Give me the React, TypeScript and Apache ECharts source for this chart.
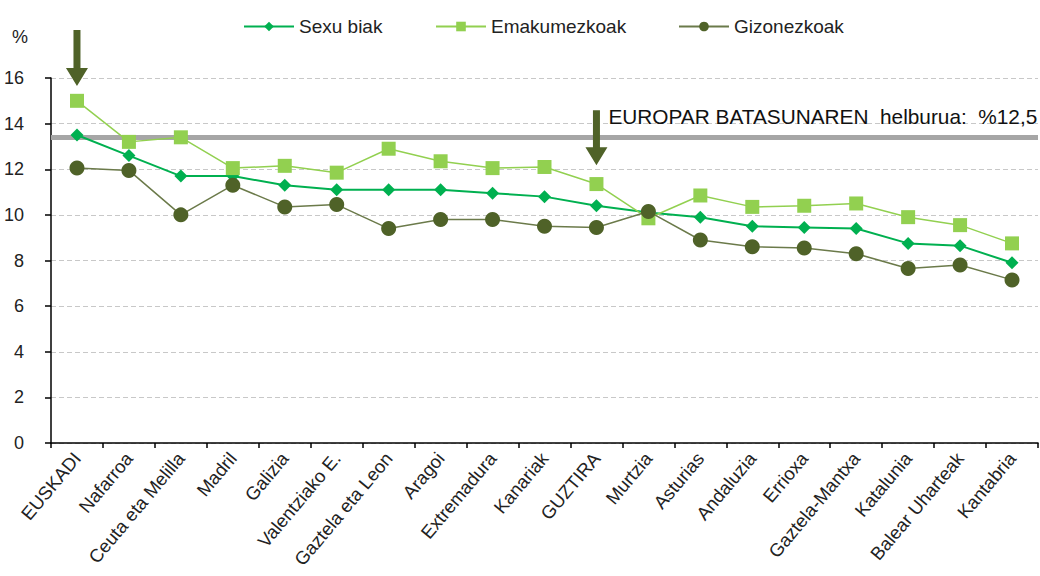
import React, { useEffect, useRef } from "react";
import * as echarts from "echarts";

const categories = [
  "EUSKADI", "Nafarroa", "Ceuta eta Melilla", "Madril", "Galizia", "Valentziako E.",
  "Gaztela eta Leon", "Aragoi", "Extremadura", "Kanariak", "GUZTIRA", "Murtzia",
  "Asturias", "Andaluzia", "Errioxa", "Gaztela-Mantxa", "Katalunia", "Balear Uharteak", "Kantabria",
];
const sexuBiak = [13.5, 12.6, 11.7, 11.7, 11.3, 11.1, 11.1, 11.1, 10.95, 10.8, 10.4, 10.1, 9.9, 9.5, 9.45, 9.4, 8.75, 8.65, 7.9];
const emakumezkoak = [15.0, 13.2, 13.4, 12.05, 12.15, 11.85, 12.9, 12.35, 12.05, 12.1, 11.35, 9.85, 10.85, 10.35, 10.4, 10.5, 9.9, 9.55, 8.75];
const gizonezkoak = [12.05, 11.95, 10.0, 11.3, 10.35, 10.45, 9.4, 9.8, 9.8, 9.5, 9.45, 10.15, 8.9, 8.6, 8.55, 8.3, 7.65, 7.8, 7.15];
const seriesNames = ["Sexu biak", "Emakumezkoak", "Gizonezkoak"];
const yTicks = [0, 2, 4, 6, 8, 10, 12, 14, 16];
const targetValue = 13.4;
const targetLabel = "EUROPAR BATASUNAREN  helburua:  %12,5";
const arrowCategories = ["EUSKADI", "GUZTIRA"];

const FONT = "'Liberation Sans', Arial, sans-serif";
const ARROW = "#4f6228";

export default function App() {
  const ref = useRef<HTMLDivElement>(null);
  useEffect(() => {
    if (!ref.current) return;
    const chart = echarts.init(ref.current, undefined, { renderer: "svg" });
    const legendBase = {
      top: 12,
      itemWidth: 50,
      itemHeight: 12,
      textStyle: { fontFamily: FONT, fontSize: 19, color: "#222" },
    };
    chart.setOption({
      animation: false,
      backgroundColor: "#fff",
      legend: [
        { ...legendBase, left: 238, data: [seriesNames[0]] },
        { ...legendBase, left: 430, data: [seriesNames[1]] },
        { ...legendBase, left: 673, data: [seriesNames[2]] },
      ],
      grid: { left: 51, right: 2, top: 78, bottom: 133 },
      xAxis: {
        type: "category",
        data: categories,
        boundaryGap: true,
        axisLine: { lineStyle: { color: "#000", width: 1.5 } },
        axisTick: { show: true, length: 5, lineStyle: { color: "#000", width: 1.5 } },
        axisLabel: {
          rotate: 50,
          interval: 0,
          margin: 12,
          fontFamily: FONT,
          fontSize: 18.5,
          color: "#222",
        },
      },
      yAxis: {
        type: "value",
        min: yTicks[0],
        max: yTicks[yTicks.length - 1],
        interval: 2,
        axisLine: { show: true, lineStyle: { color: "#000", width: 1.5 } },
        axisTick: { show: true, length: 6, lineStyle: { color: "#000", width: 1.5 } },
        axisLabel: { fontFamily: FONT, fontSize: 18, color: "#222", margin: 27 },
        splitLine: { show: true, lineStyle: { color: "#c8c8c8", type: [5, 3], width: 1 } },
      },
      series: [
        {
          name: seriesNames[0],
          type: "line",
          data: sexuBiak,
          symbol: "diamond",
          symbolSize: 13,
          color: "#00b050",
          lineStyle: { width: 2, color: "#00b050" },
          itemStyle: { color: "#00b050" },
          z: 3,
          markLine: {
            silent: true,
            symbol: "none",
            label: { show: false },
            lineStyle: { color: "#a6a6a6", width: 5, type: "solid" },
            data: [{ yAxis: targetValue }],
            z: 1,
          },
        },
        {
          name: seriesNames[1],
          type: "line",
          data: emakumezkoak,
          symbol: "rect",
          symbolSize: 14,
          color: "#92d050",
          lineStyle: { width: 1.5, color: "#92d050" },
          itemStyle: { color: "#92d050" },
          z: 4,
        },
        {
          name: seriesNames[2],
          type: "line",
          data: gizonezkoak,
          symbol: "circle",
          symbolSize: 15,
          color: "#4f6228",
          lineStyle: { width: 1.5, color: "#6b7a4a" },
          itemStyle: { color: "#4f6228" },
          z: 5,
        },
      ],
    });

    const makeArrow = (x: number, top: number, tip: number) => {
      const headH = 18;
      const shaftW = 7;
      const headW = 22;
      return {
        type: "polygon",
        z: 100,
        shape: {
          points: [
            [x - shaftW / 2, top],
            [x + shaftW / 2, top],
            [x + shaftW / 2, tip - headH],
            [x + headW / 2, tip - headH],
            [x, tip],
            [x - headW / 2, tip - headH],
            [x - shaftW / 2, tip - headH],
          ],
        },
        style: { fill: ARROW },
      };
    };
    const p0 = chart.convertToPixel({ gridIndex: 0 }, [arrowCategories[0], 16]) as number[];
    const p1 = chart.convertToPixel({ gridIndex: 0 }, [arrowCategories[1], targetValue]) as number[];
    chart.setOption({
      graphic: [
        makeArrow(p0[0], 30, p0[1] + 8),
        makeArrow(p1[0], p1[1] - 27, p1[1] + 28),
        {
          type: "text",
          left: 12,
          top: 28,
          style: { text: "%", font: `18px ${FONT}`, fill: "#222" },
        },
        {
          type: "text",
          x: p1[0] + 12,
          y: p1[1] - 21,
          style: {
            text: targetLabel,
            font: `20.8px ${FONT}`,
            fill: "#111",
            textVerticalAlign: "middle",
          },
          z: 100,
        },
      ],
    });
    return () => chart.dispose();
  }, []);
  return (
    <div
      ref={ref}
      style={{ position: "fixed", left: 0, top: 0, width: 1040, height: 576 }}
    />
  );
}
